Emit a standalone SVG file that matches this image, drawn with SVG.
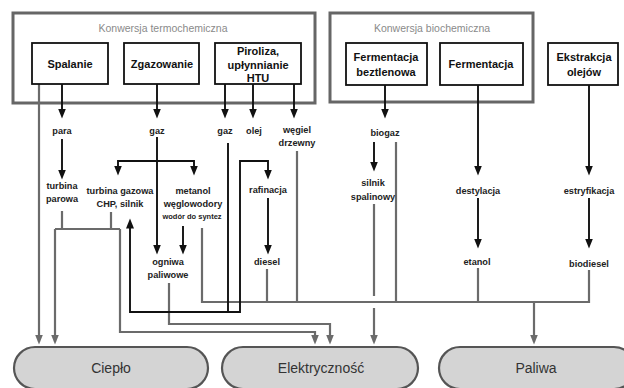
<svg xmlns="http://www.w3.org/2000/svg" width="624" height="388" viewBox="0 0 624 388">
<style>
.outer{fill:#fff;stroke:#666;stroke-width:3}
.box{fill:#fff;stroke:#111;stroke-width:1.8}
.end{fill:#d4d4d4;stroke:#555;stroke-width:2.2}
.title{font-family:"Liberation Sans",Arial,sans-serif;font-size:10.5px;fill:#8a8a8a;text-anchor:middle}
.bl{font-family:"Liberation Sans",Arial,sans-serif;font-size:11px;font-weight:bold;fill:#111;text-anchor:middle}
.lb{font-family:"Liberation Sans",Arial,sans-serif;font-size:9.2px;font-weight:bold;fill:#222;text-anchor:middle}
.sm{font-family:"Liberation Sans",Arial,sans-serif;font-size:7.5px;font-weight:bold;fill:#222;text-anchor:middle}
.big{font-family:"Liberation Sans",Arial,sans-serif;font-size:14px;fill:#333;text-anchor:middle}
.g{fill:none;stroke:#6b6b6b;stroke-width:2.2}
.k{fill:none;stroke:#111;stroke-width:1.9}
.ga{marker-end:url(#ag)}
.ka{marker-end:url(#ak)}
</style>
<defs>
<marker id="ak" markerUnits="userSpaceOnUse" markerWidth="11" markerHeight="9" refX="7.5" refY="4" orient="auto"><path d="M0,0 L10,4 L0,8 z" fill="#111"/></marker>
<marker id="ag" markerUnits="userSpaceOnUse" markerWidth="11" markerHeight="9" refX="7.5" refY="4" orient="auto"><path d="M0,0 L10,4 L0,8 z" fill="#6b6b6b"/></marker>
</defs>

<g id="grp-termo">
<rect class="outer" x="13" y="13" width="302" height="90"/>
<text class="title" x="163" y="32">Konwersja termochemiczna</text>
</g>
<g id="grp-bio">
<rect class="outer" x="330" y="13" width="203" height="89"/>
<text class="title" x="432" y="32">Konwersja biochemiczna</text>
</g>

<g id="connectors">
<!-- gray -->
<path class="g ga" d="M39,84 V342"/>
<path class="g" d="M62,211 V229 M111,212 V229 M55,229 H120"/>
<path class="g ga" d="M55,229 V342"/>
<path class="g ga" d="M120,229 V332 H315 V342"/>
<path class="g ga" d="M169,283 V324 H330 V342"/>
<path class="g" d="M202,228 V302 H589 V270 M267,269 V302 M297,151 V302 M396,142 V302 M478,268 V302"/>
<path class="g ga" d="M534,302 V342"/>
<path class="g" d="M374,204 V296"/>
<path class="g ga" d="M374,308 V342"/>
<!-- black -->
<path class="k ka" d="M62,84 V116"/>
<path class="k ka" d="M157,84 V116"/>
<path class="k ka" d="M225,84 V116"/>
<path class="k ka" d="M253,84 V116"/>
<path class="k ka" d="M294,84 V116"/>
<path class="k ka" d="M385,85 V116"/>
<path class="k ka" d="M478,85 V173"/>
<path class="k ka" d="M589,85 V173"/>
<path class="k ka" d="M62,139 V177"/>
<path class="k ka" d="M157,137 V252"/>
<path class="k ka" d="M157,161 H118 V173"/>
<path class="k ka" d="M157,161 H194 V173"/>
<path class="k ka" d="M183,226 V252"/>
<path class="k ka" d="M228,143 V312 H130 V221"/>
<path class="k ka" d="M228,312 H240 V161 H268 V177"/>
<path class="k ka" d="M268,198 V252"/>
<path class="k ka" d="M374,142 V169"/>
<path class="k ka" d="M478,198 V246"/>
<path class="k ka" d="M589,198 V246"/>
</g>

<g id="n-spalanie"><rect class="box" x="32" y="43" width="76" height="41"/><text class="bl" x="70" y="68">Spalanie</text></g>
<g id="n-zgazowanie"><rect class="box" x="124" y="43" width="75" height="41"/><text class="bl" x="162" y="68">Zgazowanie</text></g>
<g id="n-piroliza"><rect class="box" x="215" y="43" width="86" height="41"/><text class="bl" x="258" y="55">Piroliza,</text><text class="bl" x="258" y="69">upłynnianie</text><text class="bl" x="258" y="82">HTU</text></g>
<g id="n-fbeztlenowa"><rect class="box" x="346" y="43" width="81" height="42"/><text class="bl" x="386" y="61">Fermentacja</text><text class="bl" x="386" y="76">beztlenowa</text></g>
<g id="n-fermentacja"><rect class="box" x="440" y="43" width="83" height="42"/><text class="bl" x="481" y="68">Fermentacja</text></g>
<g id="n-ekstrakcja"><rect class="box" x="548" y="43" width="70" height="42"/><text class="bl" x="584" y="61">Ekstrakcja</text><text class="bl" x="584" y="76">olejów</text></g>

<g id="n-para"><text class="lb" x="62" y="134">para</text></g>
<g id="n-gaz1"><text class="lb" x="157" y="134">gaz</text></g>
<g id="n-gaz2"><text class="lb" x="225" y="134">gaz</text></g>
<g id="n-olej"><text class="lb" x="254" y="134">olej</text></g>
<g id="n-wegiel"><text class="lb" x="297" y="133">węgiel</text><text class="lb" x="297" y="146">drzewny</text></g>
<g id="n-biogaz"><text class="lb" x="385" y="136">biogaz</text></g>
<g id="n-turbparowa"><text class="lb" x="62" y="189">turbina</text><text class="lb" x="62" y="202">parowa</text></g>
<g id="n-turbgazowa"><text class="lb" x="120" y="194">turbina gazowa</text><text class="lb" x="120" y="207">CHP, silnik</text></g>
<g id="n-metanol"><text class="lb" x="193" y="194">metanol</text><text class="lb" x="193" y="207">węglowodory</text><text class="sm" x="192" y="219">wodór do syntez</text></g>
<g id="n-rafinacja"><text class="lb" x="268" y="193">rafinacja</text></g>
<g id="n-silnik"><text class="lb" x="373" y="186">silnik</text><text class="lb" x="373" y="200">spalinowy</text></g>
<g id="n-destylacja"><text class="lb" x="478" y="194">destylacja</text></g>
<g id="n-estryfikacja"><text class="lb" x="589" y="194">estryfikacja</text></g>
<g id="n-ogniwa"><text class="lb" x="168" y="265">ogniwa</text><text class="lb" x="168" y="278">paliwowe</text></g>
<g id="n-diesel"><text class="lb" x="267" y="265">diesel</text></g>
<g id="n-etanol"><text class="lb" x="477" y="265">etanol</text></g>
<g id="n-biodiesel"><text class="lb" x="589" y="267">biodiesel</text></g>

<g id="n-cieplo"><rect class="end" x="14" y="347" width="194" height="42" rx="21"/><text class="big" x="111" y="373">Ciepło</text></g>
<g id="n-elektrycznosc"><rect class="end" x="222" y="347" width="196" height="42" rx="21"/><text class="big" x="321" y="373">Elektryczność</text></g>
<g id="n-paliwa"><rect class="end" x="439" y="347" width="196" height="42" rx="21"/><text class="big" x="536" y="373">Paliwa</text></g>
</svg>
